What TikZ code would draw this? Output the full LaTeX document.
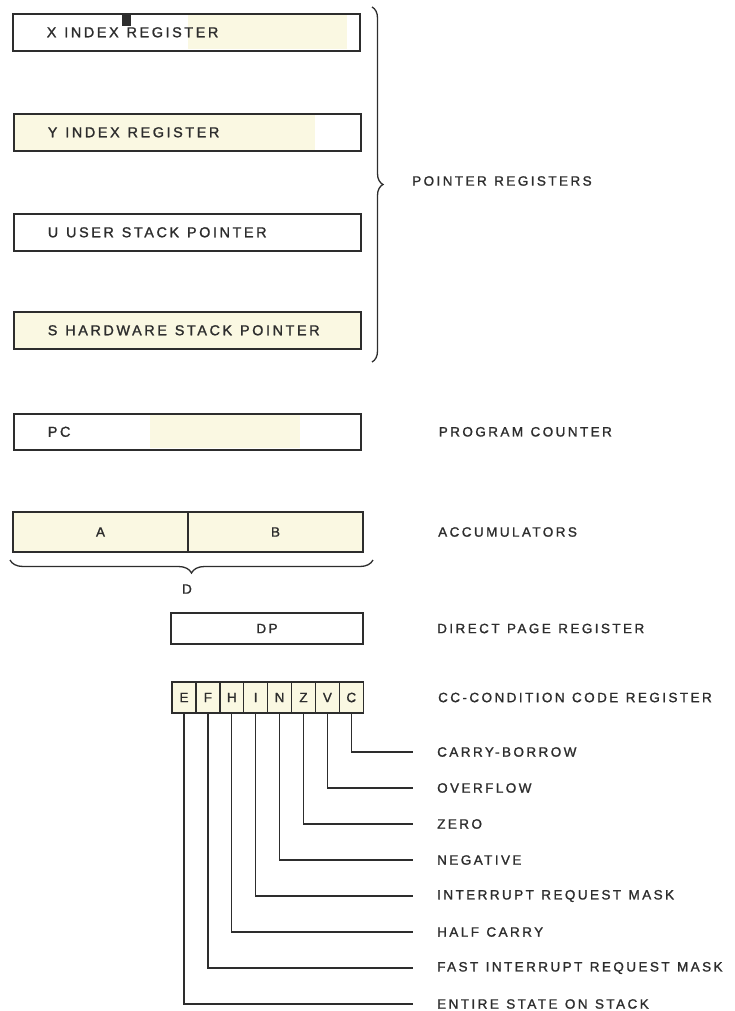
\documentclass[tikz,border=0pt]{standalone}
\usepackage{fontspec}
\setmainfont{Liberation Sans}[LetterSpace=18, WordSpace=1.2, FakeBold=1.4]
\usetikzlibrary{positioning, calc, decorations.pathreplacing}
\definecolor{inkgray}{RGB}{45,45,45}
\definecolor{paperyellow}{RGB}{250,248,226}
\newcommand{\rlabel}[1]{\makebox[279pt][l]{#1}}

\begin{document}
\begin{tikzpicture}[x=1pt, y=-1pt, inkgray,
    font=\fontsize{13.5}{16}\selectfont,
    reg/.style={draw=inkgray, line width=1.6pt, anchor=north west, minimum height=37pt,
                inner xsep=34pt, font=\fontsize{14.4}{16}\selectfont},
    half/.style={draw=inkgray, line width=1.6pt, fill=paperyellow, anchor=north west,
                 minimum width=175pt, minimum height=40pt, outer sep=0pt},
    bit/.style={draw=inkgray, line width=1.4pt, fill=paperyellow, minimum width=23.9pt,
                minimum height=31pt, inner sep=0pt},
    note/.style={anchor=west, inner sep=0pt},
    wire/.style={line width=1.3pt},
    brc/.style={decorate, decoration={brace, amplitude=#1}, line width=1.3pt}]

    \useasboundingbox (0,0) rectangle (735,1011);

    % yellowish tint of the scan
    \fill[paperyellow] (188,15) rectangle (347,49);
    \fill[paperyellow] (15,114) rectangle (315,151);
    \fill[paperyellow] (150,414) rectangle (300,448);

    % pointer registers
    \node[reg] (X) at (12,13) {\rlabel{X INDEX REGISTER}};
    \node[reg] (Y) at (13,113) {\rlabel{Y INDEX REGISTER}};
    \node[reg] (U) at (13,213) {\rlabel{U USER STACK POINTER}};
    \node[reg, fill=paperyellow] (S) at (13,311) {\rlabel{S HARDWARE STACK POINTER}};
    \fill (122,15) rectangle (131,26);

    \coordinate (pT) at (372,7);
    \coordinate (pB) at (372,362);
    \draw[brc=11pt] (pT) -- (pB);
    \node[note] (ptr) at (412,181) {POINTER REGISTERS};

    % program counter
    \node[reg, minimum height=36pt] (PC) at (13,413) {\rlabel{PC}};
    \node[note, right=77pt of PC] (pcl) {PROGRAM COUNTER};

    % accumulators
    \node[half] (A) at (13,512) {A};
    \node[half, right=0pt of A] (B) {B};
    \node[note, right=75pt of B] (acc) {ACCUMULATORS};
    \coordinate (dR) at ($(B.south east)+(10,8)$);
    \coordinate (dL) at ($(A.south west)+(-3,8)$);
    \draw[brc=13pt] (dR) -- (dL);
    \node (D) at (187,589) {D};

    % direct page
    \node[half, fill=white, minimum width=192pt, minimum height=31pt] (DP) at (171,613) {DP};
    \node[note, right=74pt of DP] (dpl) {DIRECT PAGE REGISTER};

    % condition codes
    \foreach \b [count=\i from 0] in {E,F,H,I,N,Z,V,C}
        \node[bit] (b\b) at (184+23.9*\i, 697.5) {\b};
    \node[note, right=74pt of bC] (ccl) {CC-CONDITION CODE REGISTER};

    \foreach \b/\t [count=\k from 0] in {C/CARRY-BORROW, V/OVERFLOW, Z/ZERO, N/NEGATIVE,
            I/INTERRUPT REQUEST MASK, H/HALF CARRY, F/FAST INTERRUPT REQUEST MASK,
            E/ENTIRE STATE ON STACK} {
        \coordinate (e\b) at (413, 752+36*\k);
        \node[note] (f\b) at (437, 752+36*\k) {\t};
        \draw[wire] (b\b.south) |- (e\b);
    }
\end{tikzpicture}
\end{document}
